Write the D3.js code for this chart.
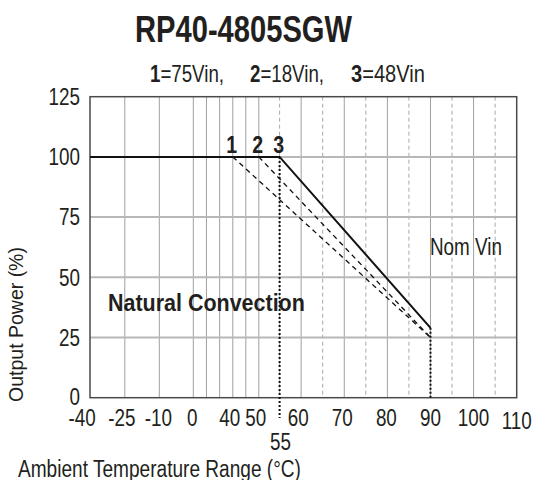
<!DOCTYPE html>
<html>
<head>
<meta charset="utf-8">
<script src="https://cdn.jsdelivr.net/npm/d3@7"></script>
<style>
html,body{margin:0;padding:0;background:#fff;}
svg{display:block;}
text{font-family:"Liberation Sans",Arial,Helvetica,sans-serif;fill:#231f20;}
</style>
</head>
<body>
<svg id="chart" width="537" height="480"></svg>
<script>
// ---- data ----
const title = "RP40-4805SGW";
const subtitleParts = [["1", "=75Vin,"], ["2", "=18Vin,"], ["3", "=48Vin"]];
const xLabelTicks = [-40, -25, -10, 0, 40, 50, 60, 70, 80, 90, 100, 110];
const xLabelText = ["-40", "-25", "-10", "0", "40", "50", "60", "70", "80", "90", "100", "110"];
const xSolidGrid = [-25, -10, 0, 13.33, 26.67, 40, 45, 50, 60, 70, 80, 90, 100];
const xDashedGrid = [55, 65, 75, 85, 95, 105];
const yTicks = [0, 25, 50, 75, 100, 125];
const curve3 = [[-40, 100], [55, 100], [90, 29]];   // 48Vin
const curve2 = [[50, 100], [90, 25]];               // 18Vin
const curve1 = [[40, 100], [90, 25]];               // 75Vin
const curveLabels = [{t: "1", x: 40}, {t: "2", x: 50}, {t: "3", x: 55}];

// ---- layout ----
const svg = d3.select("#chart");
const pL = 90, pR = 516.7, pT = 96.7, pB = 397.7;

// piecewise (non-linear) temperature axis as on the datasheet
const x = d3.scaleLinear()
  .domain([-40, -25, -10, 0, 40, 50, 55, 110])
  .range([pL, 124.8, 159.3, 193.3, 232.8, 258.8, 279.6, pR]);
const y = d3.scaleLinear().domain([0, 125]).range([pB, pT]);

// helper: condensed text (horizontal squeeze), optional exact width
function label(px, py, str, opt) {
  opt = opt || {};
  const grp = svg.append("g");
  const t = grp.append("text")
    .attr("font-size", opt.size || 23)
    .attr("font-weight", opt.bold ? "bold" : "normal")
    .attr("text-anchor", opt.anchor || "start")
    .text(str);
  let sx = opt.sx || 0.82;
  if (opt.width) sx = opt.width / t.node().getComputedTextLength();
  grp.attr("transform", `translate(${px},${py})` + (opt.rot ? ` rotate(${opt.rot})` : "") + ` scale(${sx},1)`);
  return t;
}

// grid
const g = svg.append("g");
g.selectAll(".vs").data(xSolidGrid).join("line")
  .attr("x1", d => x(d)).attr("x2", d => x(d))
  .attr("y1", pT).attr("y2", pB)
  .attr("stroke", "#a0a0a0").attr("stroke-width", 1);
g.selectAll(".vd").data(xDashedGrid).join("line")
  .attr("x1", d => x(d)).attr("x2", d => x(d))
  .attr("y1", pT).attr("y2", pB)
  .attr("stroke", "#a8a8a8").attr("stroke-width", 1)
  .attr("stroke-dasharray", "4,3");
g.selectAll(".h").data(yTicks.filter(d => d > 0 && d < 125)).join("line")
  .attr("x1", pL).attr("x2", pR)
  .attr("y1", d => y(d)).attr("y2", d => y(d))
  .attr("stroke", "#b8b8b8").attr("stroke-width", 2);

// frame
svg.append("rect").attr("x", pL).attr("y", pT)
  .attr("width", pR - pL).attr("height", pB - pT)
  .attr("fill", "none").attr("stroke", "#4a4a4a").attr("stroke-width", 1.5);

// y ticks
yTicks.forEach(d => label(80, y(d) + (d === 0 ? 7 : 8.3), String(d), {anchor: "end"}));

// x ticks
const xOff = [-8, -3, -1, -1, -3, -3, -3, -2, -1, 0, 0, 0];
const yOff = [0, 0, 0, 0, 0, 0, 0, 0, 0, 0, 0, 3];
xLabelTicks.forEach((d, i) => label(x(d) + xOff[i], 426 + yOff[i], xLabelText[i], {anchor: "middle"}));
label(x(55) + 1, 450, "55", {anchor: "middle"});

// vertical dotted markers
svg.append("line")
  .attr("x1", x(55)).attr("x2", x(55)).attr("y1", y(100)).attr("y2", 418)
  .attr("stroke", "#111").attr("stroke-width", 2).attr("stroke-dasharray", "2,2");
svg.append("line")
  .attr("x1", x(90)).attr("x2", x(90)).attr("y1", y(29)).attr("y2", y(0))
  .attr("stroke", "#111").attr("stroke-width", 2).attr("stroke-dasharray", "2,2");

// curves
const line = d3.line().x(d => x(d[0])).y(d => y(d[1]));
[curve1, curve2].forEach(c => svg.append("path").attr("d", line(c)).attr("fill", "none")
  .attr("stroke", "#111").attr("stroke-width", 1.3).attr("stroke-dasharray", "5,4"));
svg.append("path").attr("d", line(curve3)).attr("fill", "none")
  .attr("stroke", "#111").attr("stroke-width", 2);

// curve labels
curveLabels.forEach(d => label(x(d.x) - 1, 153, d.t, {anchor: "middle", bold: true, sx: 0.85}));

// title
label(243.5, 42, title, {anchor: "middle", bold: true, size: 37, width: 217});

// subtitle
const subX = [150, 250, 351];
subtitleParts.forEach((p, i) => {
  const t = label(subX[i], 81.7, "", {});
  t.append("tspan").attr("font-weight", "bold").text(p[0]);
  t.append("tspan").text(p[1]);
  const len = t.node().getComputedTextLength();
  d3.select(t.node().parentNode).attr("transform", `translate(${subX[i]},81.7) scale(${74 / len},1)`);
});

// annotations
label(108, 311, "Natural Convection", {bold: true, size: 23.5, width: 197});
label(430, 255, "Nom Vin", {width: 72});
label(23, 324.5, "Output Power (%)", {rot: -90, anchor: "middle", size: 21, width: 155});
label(18, 477, "Ambient Temperature Range (°C)", {width: 283});
</script>
</body>
</html>
